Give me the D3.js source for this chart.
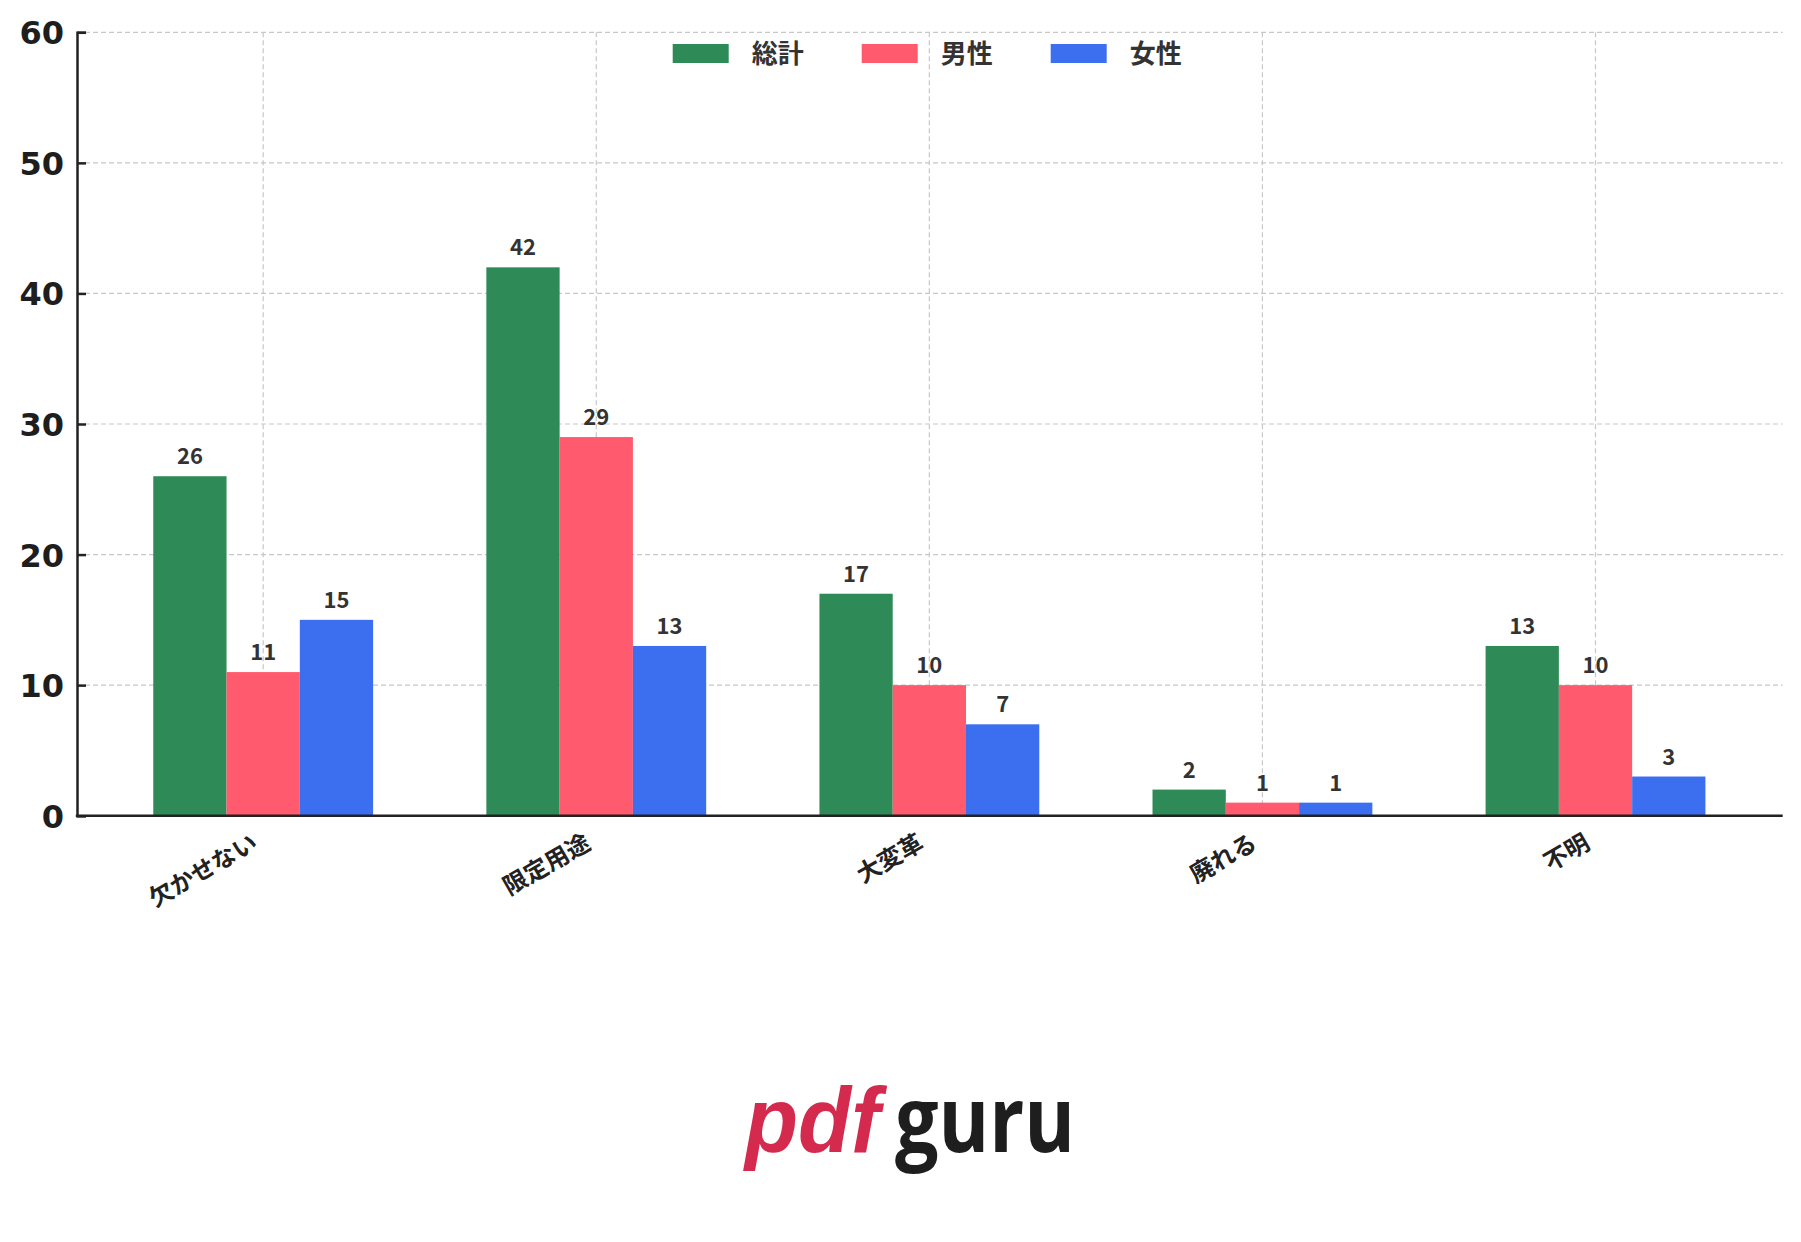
<!DOCTYPE html>
<html>
<head>
<meta charset="utf-8">
<script src="https://cdn.jsdelivr.net/npm/d3@7"></script>
<style>
  body { margin: 0; background: #fff; }
  svg { display: block; }
</style>
</head>
<body>
<div id="chart"></div>
<script>
// data
var categories = ["欠かせない", "限定用途", "大変革", "廃れる", "不明"];
var seriesNames = ["総計", "男性", "女性"];
var totalValues = [26, 42, 17, 2, 13];
var maleValues = [11, 29, 10, 1, 10];
var femaleValues = [15, 13, 7, 1, 3];
var yTicks = [0, 10, 20, 30, 40, 50, 60];

var colors = ["#2e8b57", "#ff5a6e", "#3b6ff0"];
var seriesValues = [totalValues, maleValues, femaleValues];

var width = 1801, height = 1242;
var plot = { left: 77, right: 1782.7, top: 32.3, bottom: 815.7 };
var cjk = "'Noto Sans CJK JP', 'Noto Sans CJK SC', sans-serif";

var svg = d3.select("#chart")
    .append("svg")
    .attr("width", width)
    .attr("height", height);

var yscale = d3.scaleLinear().domain([0, 60]).range([plot.bottom, plot.top]);
var xscale = d3.scalePoint().domain(categories).range([plot.left - 1, plot.right]).padding(0.562);
var step = xscale.step();
var barwidth = step * 0.22;
var inner = d3.scaleBand().domain(seriesNames).range([-1.5 * barwidth, 1.5 * barwidth]);

// grid
svg.append("g")
    .selectAll("line")
    .data(yTicks.slice(1))
    .enter()
    .append("line")
    .attr("x1", plot.left).attr("x2", plot.right)
    .attr("y1", function(d) { return yscale(d); })
    .attr("y2", function(d) { return yscale(d); })
    .attr("stroke", "#c8c8c8")
    .attr("stroke-width", 1.2)
    .attr("stroke-dasharray", "5,3");

svg.append("g")
    .selectAll("line")
    .data(categories)
    .enter()
    .append("line")
    .attr("x1", function(d) { return xscale(d); })
    .attr("x2", function(d) { return xscale(d); })
    .attr("y1", plot.top).attr("y2", plot.bottom)
    .attr("stroke", "#c8c8c8")
    .attr("stroke-width", 1.2)
    .attr("stroke-dasharray", "5,3");

// bars + value labels
seriesNames.forEach(function(name, si) {
    var rows = categories.map(function(c, i) { return { category: c, value: seriesValues[si][i] }; });
    var g = svg.append("g").attr("class", "series");
    g.selectAll("rect")
        .data(rows)
        .enter()
        .append("rect")
        .attr("x", function(d) { return xscale(d.category) + inner(name); })
        .attr("width", inner.bandwidth())
        .attr("y", function(d) { return yscale(d.value); })
        .attr("height", function(d) { return yscale(0) - yscale(d.value); })
        .attr("fill", colors[si]);

    g.selectAll("text")
        .data(rows)
        .enter()
        .append("text")
        .attr("x", function(d) { return xscale(d.category) + inner(name) + inner.bandwidth() / 2; })
        .attr("y", function(d) { return yscale(d.value) - 12; })
        .attr("text-anchor", "middle")
        .attr("font-family", cjk)
        .attr("font-weight", "bold")
        .attr("font-size", 22)
        .attr("fill", "#333")
        .text(function(d) { return d.value; });
});

// y axis
var yAxis = d3.axisLeft(yscale).tickValues(yTicks).tickSize(-9).tickPadding(13);
var yg = svg.append("g")
    .attr("transform", "translate(" + plot.left + ",0)")
    .call(yAxis);
yg.select(".domain").attr("stroke", "#222").attr("stroke-width", 2.5);
yg.selectAll(".tick line").attr("stroke", "#222").attr("stroke-width", 2.5);
yg.selectAll(".tick text")
    .attr("font-family", "'DejaVu Sans', sans-serif")
    .attr("font-weight", "bold")
    .attr("font-size", 32)
    .attr("fill", "#1e1e1e")
    .attr("dy", "0.36em");

// x axis line
svg.append("line")
    .attr("x1", plot.left - 1.2).attr("x2", plot.right)
    .attr("y1", plot.bottom).attr("y2", plot.bottom)
    .attr("stroke", "#222")
    .attr("stroke-width", 2.5);

// x tick labels, rotated
svg.append("g")
    .selectAll("text")
    .data(categories)
    .enter()
    .append("text")
    .attr("transform", function(d) { return "translate(" + (xscale(d) - 4) + "," + (plot.bottom + 32) + ") rotate(-30)"; })
    .attr("text-anchor", "end")
    .attr("font-family", cjk)
    .attr("font-weight", "bold")
    .attr("font-size", 24)
    .attr("fill", "#222")
    .text(function(d) { return d; });

// legend
var legend = svg.append("g").attr("transform", "translate(672.7,44)");
seriesNames.forEach(function(name, i) {
    var lg = legend.append("g").attr("transform", "translate(" + (i * 189) + ",0)");
    lg.append("rect").attr("width", 56).attr("height", 19).attr("fill", colors[i]);
    lg.append("text")
        .attr("x", 79).attr("y", 19)
        .attr("font-family", cjk)
        .attr("font-weight", "bold")
        .attr("font-size", 26)
        .attr("fill", "#333")
        .text(name);
});

// logo
var logo = svg.append("g");
logo.append("text")
    .attr("x", 745).attr("y", 1152)
    .attr("font-family", "'Liberation Sans', sans-serif")
    .attr("font-weight", "bold")
    .attr("font-style", "italic")
    .attr("font-size", 92)
    .attr("textLength", 135)
    .attr("lengthAdjust", "spacingAndGlyphs")
    .attr("fill", "#d42a4e")
    .text("pdf");
logo.append("text")
    .attr("x", 895).attr("y", 1152)
    .attr("font-family", "'Open Sans', sans-serif")
    .attr("font-weight", "bold")
    .attr("font-size", 92)
    .attr("textLength", 180)
    .attr("lengthAdjust", "spacingAndGlyphs")
    .attr("fill", "#1e1e1e")
    .text("guru");
</script>
</body>
</html>
